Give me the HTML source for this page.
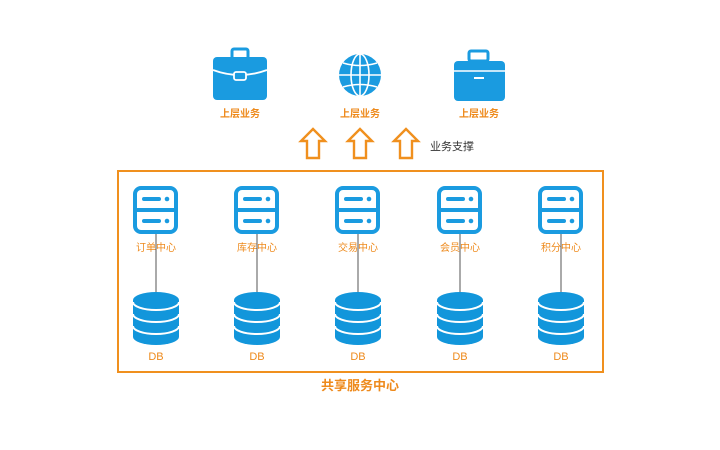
<!DOCTYPE html>
<html><head><meta charset="utf-8"><style>
html,body{margin:0;padding:0;background:#fff;}
svg{display:block;}
text{font-family:"Liberation Sans","Noto Sans CJK SC",sans-serif;}
</style></head><body>
<svg width="720" height="450" viewBox="0 0 720 450" xmlns="http://www.w3.org/2000/svg">
<defs>
<g id="srv">
  <rect x="-20" y="0" width="41" height="44" rx="6" fill="none" stroke="#1a9be0" stroke-width="4"/>
  <line x1="-20" y1="22" x2="21" y2="22" stroke="#1a9be0" stroke-width="4"/>
  <line x1="-11" y1="11" x2="4" y2="11" stroke="#1a9be0" stroke-width="4" stroke-linecap="round"/>
  <line x1="-11" y1="33" x2="4" y2="33" stroke="#1a9be0" stroke-width="4" stroke-linecap="round"/>
  <circle cx="12" cy="11" r="2.3" fill="#1a9be0"/>
  <circle cx="12" cy="33" r="2.3" fill="#1a9be0"/>
</g>
<g id="db">
  <path d="M-23,8 A23,8 0 0 1 23,8 L23,45 A23,8 0 0 1 -23,45 Z" fill="#1296db"/>
  <path d="M-23,10 A23,8 0 0 0 23,10" fill="none" stroke="#fff" stroke-width="2"/>
  <path d="M-23,22 A23,8 0 0 0 23,22" fill="none" stroke="#fff" stroke-width="2"/>
  <path d="M-23,34 A23,8 0 0 0 23,34" fill="none" stroke="#fff" stroke-width="2"/>
</g>
<g id="arr">
  <path d="M0,0 L12,12 L6,12 L6,29 L-6,29 L-6,12 L-12,12 Z" fill="none" stroke="#f0901e" stroke-width="2.4" stroke-linejoin="miter"/>
</g>
</defs>

<rect x="232" y="49" width="16" height="10" rx="2" fill="none" stroke="#1a9be0" stroke-width="3"/>
<rect x="213" y="57" width="54" height="43" rx="4" fill="#1a9be0"/>
<path d="M213,70 Q240,80 267,70" fill="none" stroke="#fff" stroke-width="1.8"/>
<rect x="234" y="72" width="12" height="8" rx="2" fill="#1a9be0" stroke="#fff" stroke-width="1.8"/>

<circle cx="360" cy="75" r="21" fill="#1a9be0"/>
<g fill="none" stroke="#fff" stroke-width="1.6">
  <ellipse cx="360" cy="75" rx="9" ry="21"/>
  <line x1="360" y1="54" x2="360" y2="96"/>
  <line x1="339" y1="75" x2="381" y2="75"/>
  <path d="M343,63 Q360,68 377,63"/>
  <path d="M343,87 Q360,82 377,87"/>
</g>

<rect x="469" y="51" width="19" height="10" rx="2" fill="none" stroke="#1a9be0" stroke-width="3"/>
<rect x="454" y="61" width="51" height="40" rx="4" fill="#1a9be0"/>
<line x1="454" y1="71" x2="505" y2="71" stroke="#fff" stroke-width="1.5"/>
<line x1="474" y1="78" x2="484" y2="78" stroke="#fff" stroke-width="2"/>

<g font-size="10" fill="#ee8a1c" text-anchor="middle" font-weight="bold">
<text x="240" y="117">上层业务</text>
<text x="360" y="117">上层业务</text>
<text x="479" y="117">上层业务</text>
</g>

<use href="#arr" x="313" y="129"/>
<use href="#arr" x="360" y="129"/>
<use href="#arr" x="406" y="129"/>
<text x="430" y="150" font-size="11" fill="#333">业务支撑</text>

<rect x="118" y="171" width="485" height="201" fill="none" stroke="#f0901e" stroke-width="2"/>

<g stroke="#555" stroke-width="1">
<line x1="156" y1="230" x2="156" y2="293"/>
<line x1="257" y1="230" x2="257" y2="293"/>
<line x1="358" y1="230" x2="358" y2="293"/>
<line x1="460" y1="230" x2="460" y2="293"/>
<line x1="561" y1="230" x2="561" y2="293"/>
</g>

<use href="#srv" x="155" y="188"/>
<use href="#srv" x="256" y="188"/>
<use href="#srv" x="357" y="188"/>
<use href="#srv" x="459" y="188"/>
<use href="#srv" x="560" y="188"/>

<use href="#db" x="156" y="292"/>
<use href="#db" x="257" y="292"/>
<use href="#db" x="358" y="292"/>
<use href="#db" x="460" y="292"/>
<use href="#db" x="561" y="292"/>

<g font-size="10" fill="#ee8a1c" text-anchor="middle">
<text x="156" y="251">订单中心</text>
<text x="257" y="251">库存中心</text>
<text x="358" y="251">交易中心</text>
<text x="460" y="251">会员中心</text>
<text x="561" y="251">积分中心</text>
</g>
<g font-size="11" fill="#ee8a1c" text-anchor="middle">
<text x="156" y="360">DB</text>
<text x="257" y="360">DB</text>
<text x="358" y="360">DB</text>
<text x="460" y="360">DB</text>
<text x="561" y="360">DB</text>
</g>
<text x="360" y="390" font-size="13" fill="#ee8a1c" text-anchor="middle" font-weight="bold">共享服务中心</text>
</svg>
</body></html>
